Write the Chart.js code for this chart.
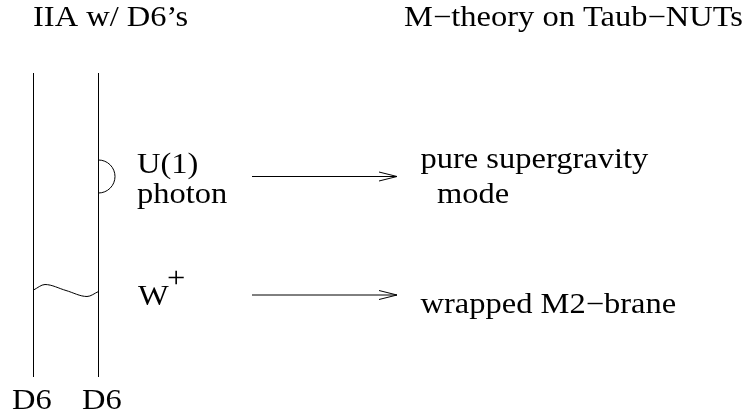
<!DOCTYPE html>
<html>
<head>
<meta charset="utf-8">
<script src="https://cdn.jsdelivr.net/npm/chart.js@4"></script>
<style>
  html, body { margin: 0; padding: 0; background: #fff; }
  #myChart { display: block; }
  .warm { position: absolute; left: -999px; top: 0; font-family: "Liberation Serif", "Times New Roman", Times, serif; font-size: 32px; }
</style>
</head>
<body>
<div class="warm">IIA w/ D6’s M−theory</div>
<canvas id="myChart" width="750" height="417"></canvas>
<script>
// diagram units = picture pixels (x to the right, y downwards)
const braneX = [33.5, 98.5];
const braneSpan = [73, 377];
const arrowY = [176.5, 295];
const arrowSpan = [252, 397];
const waveX = [33.5, 45, 66, 87, 98.5];
const waveY = [290, 284.5, 290.5, 296.5, 291.5];
const loop = [98.5, 176.5, 16.5]; // centre x, centre y, radius

const labelText = ['IIA w/ D6\u2019s', 'M\u2212theory on Taub\u2212NUTs', 'U(1)', 'photon', 'W', '+',
  'pure supergravity', 'mode', 'wrapped M2\u2212brane', 'D6', 'D6'];
const labelX = [33, 404, 137, 137, 138, 167, 420.5, 437, 420.5, 12, 82];
const labelY = [26, 26, 173, 203, 305, 287, 168, 203, 313, 409, 409];

var datasets = [];
braneX.forEach(function (x) {
  datasets.push({ data: [{ x: x, y: braneSpan[0] }, { x: x, y: braneSpan[1] }] });
});
arrowY.forEach(function (y) {
  datasets.push({ data: [{ x: arrowSpan[0], y: y }, { x: arrowSpan[1], y: y }] });
});
datasets.push({
  data: waveX.map(function (x, i) { return { x: x, y: waveY[i] }; }),
  cubicInterpolationMode: 'monotone'
});
datasets.forEach(function (d) {
  d.showLine = true;
  d.borderColor = '#000';
  d.borderWidth = 1;
  d.pointRadius = 0;
  d.fill = false;
});

const extras = {
  id: 'extras',
  afterDatasetsDraw: function (chart) {
    var c = chart.ctx, xs = chart.scales.x, ys = chart.scales.y;
    c.save();
    c.strokeStyle = '#000';
    c.lineWidth = 1;
    // open arrow heads
    arrowY.forEach(function (y) {
      var tx = xs.getPixelForValue(arrowSpan[1]), ty = ys.getPixelForValue(y);
      c.beginPath();
      c.moveTo(tx - 18, ty - 4.5);
      c.lineTo(tx, ty);
      c.lineTo(tx - 18, ty + 4.5);
      c.stroke();
    });
    // photon loop on the right brane
    var cx = xs.getPixelForValue(loop[0]), cy = ys.getPixelForValue(loop[1]);
    var r = xs.getPixelForValue(loop[0] + loop[2]) - cx;
    c.beginPath();
    c.arc(cx, cy, r, -Math.PI / 2, Math.PI / 2);
    c.stroke();
    // labels
    c.fillStyle = '#000';
    c.font = '32.5px "Liberation Serif", "Times New Roman", Times, serif';
    c.textBaseline = 'alphabetic';
    labelText.forEach(function (t, i) {
      c.save();
      c.translate(xs.getPixelForValue(labelX[i]), ys.getPixelForValue(labelY[i]));
      c.scale(1, 0.88);
      c.fillText(t, 0, 0);
      c.restore();
    });
    c.restore();
  }
};

const ctx = document.getElementById('myChart');
const myChart = new Chart(ctx, {
  type: 'scatter',
  data: { datasets: datasets },
  options: {
    responsive: false,
    animation: false,
    layout: { padding: 0 },
    plugins: { legend: { display: false }, tooltip: { enabled: false } },
    scales: {
      x: { type: 'linear', min: 0, max: 750, display: false },
      y: { type: 'linear', min: 0, max: 417, reverse: true, display: false }
    }
  },
  plugins: [extras]
});
if (document.fonts) {
  document.fonts.load('32.5px "Liberation Serif"').then(function () { myChart.draw(); });
}
</script>
</body>
</html>
